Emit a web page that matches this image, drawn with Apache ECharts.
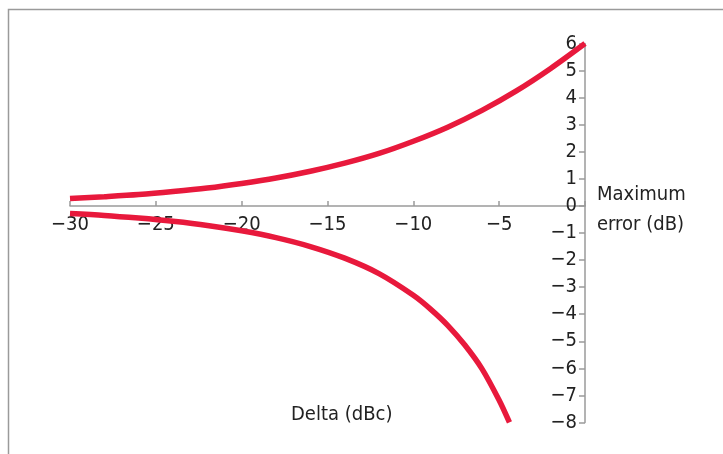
<!DOCTYPE html>
<html>
<head>
<meta charset="utf-8">
<script src="https://cdn.jsdelivr.net/npm/echarts@6/dist/echarts.min.js"></script>
<style>html,body{margin:0;padding:0;background:#fff}#c{width:723px;height:454px}</style>
</head>
<body>
<div id="c"></div>
<script>
var upperDelta = [-30, -28, -26, -24, -22, -20, -18, -16, -14, -12, -10, -8, -6, -4, -2, 0];
var upperError = [0.27, 0.34, 0.42, 0.53, 0.66, 0.83, 1.03, 1.28, 1.58, 1.94, 2.39, 2.91, 3.53, 4.25, 5.08, 6.0];
var lowerDelta = [-30, -28, -26, -24, -22, -20, -18, -16, -14, -12, -10, -9, -8, -7, -6, -5, -4.4];
var lowerError = [-0.28, -0.35, -0.45, -0.57, -0.72, -0.92, -1.17, -1.5, -1.93, -2.5, -3.3, -3.81, -4.41, -5.14, -6.02, -7.18, -8.0];
var xTicks = [-30, -25, -20, -15, -10, -5];
var yTicksUpper = [6, 5, 4, 3, 2, 1, 0];
var yTicksLower = [-1, -2, -3, -4, -5, -6, -7, -8];

function zip(a, b) { return a.map(function (v, i) { return [v, b[i]]; }); }
function fmt(v) { return v < 0 ? '\u2212' + Math.abs(v) : String(v); }

var FONT = '"DejaVu Sans Condensed", "Liberation Sans Narrow", sans-serif';
var AX = { color: '#9a9a9a', width: 1.5 };
var unit = 27.07;
var top1 = 43.5;
var zeroY = top1 + 6 * unit;

function yAxisFor(idx, mn, mx, ticks) {
  return {
    type: 'value', gridIndex: idx, min: mn, max: mx, interval: 1, position: 'right',
    axisLine: { onZero: false, lineStyle: AX },
    axisTick: { inside: true, length: 6, lineStyle: AX },
    splitLine: { show: false },
    axisLabel: {
      inside: true, margin: 8, color: '#222', fontFamily: FONT, fontSize: 20,
      showMinLabel: true, showMaxLabel: true,
      formatter: function (v) { return ticks.indexOf(v) >= 0 ? fmt(v) : ''; }
    }
  };
}

var chart = echarts.init(document.getElementById('c'));
chart.setOption({
  animation: false,
  grid: [
    { left: 70, right: 138, top: top1, height: 6 * unit, containLabel: false },
    { left: 70, right: 138, top: zeroY, height: 8 * unit, containLabel: false }
  ],
  xAxis: [
    {
      type: 'value', gridIndex: 0, min: -30, max: 0, interval: 5, position: 'bottom',
      axisLine: { onZero: false, lineStyle: AX },
      axisTick: { inside: true, length: 5, lineStyle: AX },
      splitLine: { show: false },
      axisLabel: {
        margin: 9, color: '#222', fontFamily: FONT, fontSize: 20,
        formatter: function (v) { return xTicks.indexOf(v) >= 0 ? fmt(v) : ''; }
      }
    },
    {
      type: 'value', gridIndex: 1, min: -30, max: 0, interval: 5, show: false
    }
  ],
  yAxis: [
    yAxisFor(0, 0, 6, yTicksUpper),
    yAxisFor(1, -8, 0, yTicksLower)
  ],
  series: [
    { type: 'line', z: 5, xAxisIndex: 0, yAxisIndex: 0, data: zip(upperDelta, upperError), smooth: 0.3, showSymbol: false, clip: false,
      lineStyle: { color: '#e8193c', width: 5.5, cap: 'butt' } },
    { type: 'line', z: 5, xAxisIndex: 1, yAxisIndex: 1, data: zip(lowerDelta, lowerError), smooth: 0.3, showSymbol: false, clip: false,
      lineStyle: { color: '#e8193c', width: 5.5, cap: 'butt' } }
  ],
  graphic: [
    { type: 'rect', shape: { x: 8.5, y: 9.5, width: 800, height: 500 }, style: { fill: 'none', stroke: '#9a9a9a', lineWidth: 1.5 }, silent: true },
    { type: 'text', left: 597, top: 180, style: { text: 'Maximum\nerror (dB)', font: '20px ' + FONT, fill: '#222', lineHeight: 30 } },
    { type: 'text', left: 291, top: 405, style: { text: 'Delta (dBc)', font: '20px ' + FONT, fill: '#222' } }
  ]
});
</script>
</body>
</html>
